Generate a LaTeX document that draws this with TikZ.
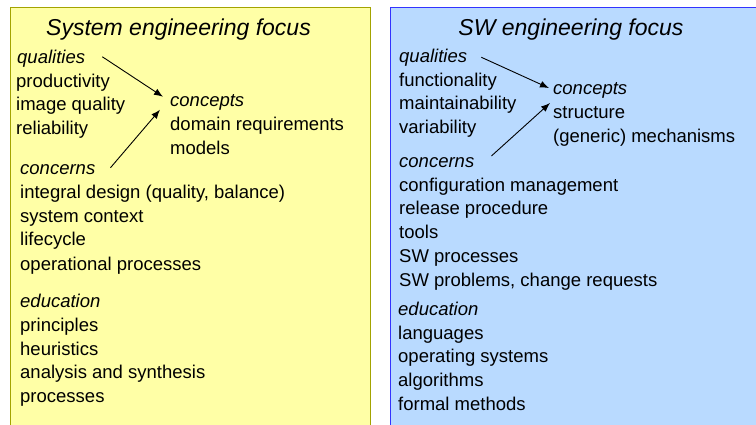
\documentclass[tikz,border=0pt]{standalone}
\usepackage{fontspec}
\setmainfont{Liberation Sans}
\usepackage{tikz}
\usetikzlibrary{arrows.meta}

\definecolor{sysfill}{HTML}{FFFFA6}
\definecolor{sysedge}{HTML}{A3A300}
\definecolor{swfill}{HTML}{B9DAFF}
\definecolor{swedge}{HTML}{3333FF}

\tikzset{
  item/.style={anchor=base west, inner sep=0pt, text height=13.5pt, text depth=4pt,
    font=\fontsize{18.5}{22}\selectfont},
  head/.style={item, font=\fontsize{18.5}{22}\selectfont\itshape},
  ttl/.style={anchor=base, inner sep=0pt, font=\fontsize{23}{27}\selectfont\itshape},
  link/.style={-{Latex[length=9pt,width=7pt]}, line width=0.9pt}
}

\begin{document}
\begin{tikzpicture}[x=1pt,y=-1pt]
            \clip (0,0) rectangle (756,425);
            % Draw boxes
            \draw[fill=sysfill, draw=sysedge, line width=1pt] (10,8) rectangle (370,440);
            \draw[fill=swfill, draw=swedge, line width=1pt] (390,8) rectangle (770,440);
            % Titles
            \node[ttl] (systitle) at (178.5,36) {System engineering focus};
            \node[ttl] (swtitle) at (571,36) {SW engineering focus};
            % System engineering column
            \node[head] (lqual) at (17,63.5) {qualities};
            \node[item] (lprod) at (16,87.5) {productivity};
            \node[item] (limg) at (16,111) {image quality};
            \node[item] (lrel) at (16,134.5) {reliability};
            \node[head] (lconc) at (170,106.5) {concepts};
            \node[item] (ldom) at (170,131) {domain requirements};
            \node[item] (lmod) at (170,154.5) {models};
            \node[head] (lconcern) at (20,174.5) {concerns};
            \node[item] (lint) at (20,199) {integral design (quality, balance)};
            \node[item] (lsys) at (20,222.5) {system context};
            \node[item] (llife) at (20,246) {lifecycle};
            \node[item] (lop) at (20,270) {operational processes};
            \node[head] (ledu) at (20,308) {education};
            \node[item] (lprin) at (20,331) {principles};
            \node[item] (lheu) at (20,355) {heuristics};
            \node[item] (lana) at (20,378) {analysis and synthesis};
            \node[item] (lproc) at (20,402) {processes};
            % SW engineering column
            \node[head] (rqual) at (399,63) {qualities};
            \node[item] (rfun) at (399,86.5) {functionality};
            \node[item] (rmain) at (399,110) {maintainability};
            \node[item] (rvar) at (399,134) {variability};
            \node[head] (rconc) at (553,94.3) {concepts};
            \node[item] (rstruct) at (553,119) {structure};
            \node[item] (rmech) at (553,142.7) {(generic) mechanisms};
            \node[head] (rconcern) at (399,167.7) {concerns};
            \node[item] (rconf) at (399,191.7) {configuration management};
            \node[item] (rrel) at (399,215) {release procedure};
            \node[item] (rtools) at (399,238.7) {tools};
            \node[item] (rproc) at (399,262.7) {SW processes};
            \node[item] (rprob) at (399,286.3) {SW problems, change requests};
            \node[head] (redu) at (398,316) {education};
            \node[item] (rlang) at (398,339) {languages};
            \node[item] (ros) at (398,362.7) {operating systems};
            \node[item] (ralg) at (398,386.3) {algorithms};
            \node[item] (rform) at (398,410) {formal methods};
            % Draw arrows
            \draw[link] ([xshift=17pt,yshift=2pt]lqual.east) -- ([xshift=-7pt,yshift=5pt]lconc.west);
            \draw[link] ([xshift=15pt,yshift=2pt]lconcern.east) -- ([xshift=-10pt,yshift=-8pt]lconc.west);
            \draw[link] ([xshift=14pt,yshift=1pt]rqual.east) -- ([xshift=-4pt,yshift=1.5pt]rconc.west);
            \draw[link] ([xshift=17pt,yshift=7pt]rconcern.east) -- ([xshift=-3pt,yshift=-13.5pt]rconc.west);
        \end{tikzpicture}
\end{document}
